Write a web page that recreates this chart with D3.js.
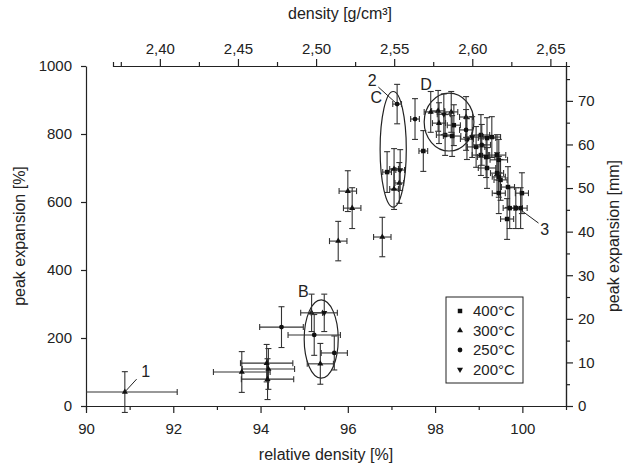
<!DOCTYPE html>
<html>
<head>
<meta charset="utf-8">
<script src="https://cdn.jsdelivr.net/npm/d3@7/dist/d3.min.js"></script>
<style>
  body { margin: 0; background: #fff; }
  svg text { font-family: "Liberation Sans", Arial, sans-serif; fill: #222; }
</style>
</head>
<body>
<svg id="chart" width="624" height="468"></svg>
<script>
// 400°C  [relative density %, peak expansion %, x error, y error]
var s400 = [
  [96.9, 688, 0.1, 60], [97.73, 750, 0.1, 60], [98.43, 826, 0.15, 60], [98.23, 797, 0.2, 60],
  [98.39, 794, 0.2, 60], [98.73, 785, 0.15, 60], [98.94, 762, 0.2, 60], [99.05, 797, 0.2, 60],
  [99.19, 788, 0.2, 60], [99.3, 791, 0.2, 60], [99.05, 738, 0.2, 60], [99.17, 732, 0.2, 60],
  [99.42, 738, 0.2, 60], [99.46, 724, 0.2, 60], [99.19, 700, 0.2, 60], [99.42, 685, 0.15, 60],
  [99.46, 674, 0.15, 60], [99.5, 665, 0.15, 60], [99.46, 626, 0.15, 60], [99.67, 644, 0.15, 60],
  [99.99, 626, 0.15, 60], [99.71, 582, 0.15, 60], [99.85, 582, 0.15, 60], [99.96, 582, 0.15, 60],
  [99.65, 550, 0.15, 60]
];
// 300°C
var s300 = [
  [90.89, 41, 1.2, 60], [93.57, 100, 0.65, 60], [94.14, 126, 0.6, 55], [94.18, 109, 0.6, 60],
  [94.16, 79, 0.6, 60], [95.17, 274, 0.25, 55], [95.37, 124, 0.3, 60], [95.78, 485, 0.2, 58],
  [96.0, 632, 0.2, 60], [96.1, 582, 0.2, 60], [96.79, 497, 0.2, 58], [97.06, 697, 0.1, 60],
  [97.06, 638, 0.1, 60], [97.18, 656, 0.1, 60], [97.9, 865, 0.15, 60], [98.07, 868, 0.15, 60],
  [98.37, 865, 0.15, 60], [98.09, 832, 0.15, 60], [98.71, 850, 0.15, 60]
];
// 250°C
var s250 = [
  [94.48, 232, 0.5, 60], [95.23, 209, 0.6, 60], [95.69, 156, 0.3, 50], [97.13, 888, 0.1, 58],
  [97.54, 844, 0.1, 60], [98.71, 812, 0.15, 60], [99.07, 768, 0.2, 60]
];
// 200°C
var s200 = [
  [95.46, 274, 0.3, 55], [97.2, 694, 0.1, 60], [98.85, 791, 0.15, 60], [98.2, 858, 0.15, 60]
];

var seriesNames = ["400°C", "300°C", "250°C", "200°C"];
var xTicks = [90, 92, 94, 96, 98, 100];
var yTicks = [0, 200, 400, 600, 800, 1000];
var mmTicks = [0, 10, 20, 30, 40, 50, 60, 70];
var densTicks = [2.40, 2.45, 2.50, 2.55, 2.60, 2.65];

var svg = d3.select("#chart");
var pLeft = 86, pRight = 566, pTop = 66, pBottom = 406;

var x = d3.scaleLinear().domain([90, 101]).range([pLeft, pRight]);
var y = d3.scaleLinear().domain([0, 1000]).range([pBottom, pTop]);
var yMM = d3.scaleLinear().domain([0, 78]).range([pBottom, pTop]);
var xDens = d3.scaleLinear().domain([2.37, 2.66]).range([113, pRight]);

function styleAxis(g) {
  g.selectAll("path.domain").attr("stroke", "#222").attr("stroke-width", 1.2);
  g.selectAll(".tick line").attr("stroke", "#222").attr("stroke-width", 1.2);
  g.selectAll("text").style("font-family", "Liberation Sans, Arial, sans-serif")
    .style("font-size", "15px").attr("fill", "#222");
}

// minor ticks first, then major
svg.append("g").attr("transform", "translate(0," + pBottom + ")")
  .call(d3.axisBottom(x).tickValues(d3.range(91, 101, 2)).tickSize(4).tickFormat(""))
  .call(styleAxis);
svg.append("g").attr("transform", "translate(0," + pBottom + ")")
  .call(d3.axisBottom(x).tickValues(xTicks).tickSize(7).tickSizeOuter(0).tickPadding(10))
  .call(styleAxis);

svg.append("g").attr("transform", "translate(" + pLeft + ",0)")
  .call(d3.axisLeft(y).tickValues(yTicks).tickSize(5).tickSizeOuter(0).tickPadding(9).tickFormat(d3.format("d")))
  .call(styleAxis);

svg.append("g").attr("transform", "translate(" + pRight + ",0)")
  .call(d3.axisRight(yMM).tickValues(d3.range(5, 78, 10)).tickSize(4).tickFormat(""))
  .call(styleAxis);
svg.append("g").attr("transform", "translate(" + pRight + ",0)")
  .call(d3.axisRight(yMM).tickValues(mmTicks).tickSize(7).tickSizeOuter(0).tickPadding(5))
  .call(styleAxis);

var comma = function(d) { return d3.format(".2f")(d).replace(".", ","); };
svg.append("g").attr("transform", "translate(0," + pTop + ")")
  .call(d3.axisTop(xDens).tickValues(d3.range(2.375, 2.66, 0.05)).tickSize(4).tickFormat(""))
  .call(styleAxis);
svg.append("g").attr("transform", "translate(0," + pTop + ")")
  .call(d3.axisTop(xDens).tickValues(densTicks).tickSize(7).tickSizeOuter(0).tickPadding(5).tickFormat(comma))
  .call(styleAxis);

// axis titles
svg.append("text").attr("x", 326).attr("y", 460).attr("text-anchor", "middle")
  .style("font-size", "16px").text("relative density [%]");
svg.append("text").attr("x", 340).attr("y", 19).attr("text-anchor", "middle")
  .style("font-size", "16px").text("density [g/cm³]");
svg.append("text").attr("transform", "translate(25,236) rotate(-90)").attr("text-anchor", "middle")
  .style("font-size", "16px").text("peak expansion [%]");
svg.append("text").attr("transform", "translate(619,236) rotate(-90)").attr("text-anchor", "middle")
  .style("font-size", "16px").text("peak expansion [mm]");

// ellipses around groups
var ellipses = [
  {cx: 95.39, cy: 197, rx: 0.39, ry: 115},
  {cx: 97.04, cy: 755, rx: 0.3, ry: 170},
  {cx: 98.32, cy: 835, rx: 0.57, ry: 85}
];
svg.selectAll("ellipse.grp").data(ellipses).enter().append("ellipse")
  .attr("cx", function(d) { return x(d.cx); })
  .attr("cy", function(d) { return y(d.cy); })
  .attr("rx", function(d) { return x(d.cx + d.rx) - x(d.cx); })
  .attr("ry", function(d) { return y(d.cy) - y(d.cy + d.ry); })
  .attr("fill", "none").attr("stroke", "#222").attr("stroke-width", 1.2);

svg.append("clipPath").attr("id", "plotclip").append("rect")
  .attr("x", pLeft).attr("y", pTop).attr("width", pRight - pLeft).attr("height", pBottom - pTop + 10);

var shapes = [
  d3.symbol().type(d3.symbolSquare).size(20),
  d3.symbol().type(d3.symbolTriangle).size(16),
  d3.symbol().type(d3.symbolCircle).size(18),
  d3.symbol().type(d3.symbolTriangle).size(16)
];
var rotate = [0, 0, 0, 180];
var allSeries = [s400, s300, s250, s200];
var cap = 3;

var plot = svg.append("g").attr("clip-path", "url(#plotclip)");
allSeries.forEach(function(data, si) {
  var g = plot.append("g");
  var eb = g.selectAll("g.eb").data(data).enter().append("g").attr("stroke", "#333").attr("stroke-width", 1.1);
  // vertical bars
  eb.append("line")
    .attr("x1", function(d) { return x(d[0]); }).attr("x2", function(d) { return x(d[0]); })
    .attr("y1", function(d) { return y(d[1] - d[3]); }).attr("y2", function(d) { return y(d[1] + d[3]); });
  eb.append("line")
    .attr("x1", function(d) { return x(d[0]) - cap; }).attr("x2", function(d) { return x(d[0]) + cap; })
    .attr("y1", function(d) { return y(d[1] + d[3]); }).attr("y2", function(d) { return y(d[1] + d[3]); });
  eb.append("line")
    .attr("x1", function(d) { return x(d[0]) - cap; }).attr("x2", function(d) { return x(d[0]) + cap; })
    .attr("y1", function(d) { return y(d[1] - d[3]); }).attr("y2", function(d) { return y(d[1] - d[3]); });
  // horizontal bars
  eb.append("line")
    .attr("x1", function(d) { return x(d[0] - d[2]); }).attr("x2", function(d) { return x(d[0] + d[2]); })
    .attr("y1", function(d) { return y(d[1]); }).attr("y2", function(d) { return y(d[1]); });
  eb.append("line")
    .attr("x1", function(d) { return x(d[0] - d[2]); }).attr("x2", function(d) { return x(d[0] - d[2]); })
    .attr("y1", function(d) { return y(d[1]) - cap; }).attr("y2", function(d) { return y(d[1]) + cap; });
  eb.append("line")
    .attr("x1", function(d) { return x(d[0] + d[2]); }).attr("x2", function(d) { return x(d[0] + d[2]); })
    .attr("y1", function(d) { return y(d[1]) - cap; }).attr("y2", function(d) { return y(d[1]) + cap; });
  g.selectAll("path.mk").data(data).enter().append("path")
    .attr("d", shapes[si])
    .attr("transform", function(d) { return "translate(" + x(d[0]) + "," + y(d[1]) + ") rotate(" + rotate[si] + ")"; })
    .attr("fill", "#111");
});

// annotations
var labels = [
  {t: "1", x: 91.37, y: 85, lx1: 90.91, ly1: 44, lx2: 91.16, ly2: 79},
  {t: "2", x: 96.56, y: 941, lx1: 96.7, ly1: 938, lx2: 97.13, ly2: 888},
  {t: "C", x: 96.65, y: 891},
  {t: "B", x: 94.98, y: 321},
  {t: "D", x: 97.79, y: 929},
  {t: "3", x: 100.51, y: 503, lx1: 99.99, ly1: 574, lx2: 100.37, ly2: 538}
];
labels.forEach(function(d) {
  svg.append("text").attr("x", x(d.x)).attr("y", y(d.y)).attr("text-anchor", "middle")
    .style("font-size", "16px").text(d.t);
  if (d.lx1 !== undefined) {
    svg.append("line").attr("x1", x(d.lx1)).attr("y1", y(d.ly1)).attr("x2", x(d.lx2)).attr("y2", y(d.ly2))
      .attr("stroke", "#222").attr("stroke-width", 1);
  }
});

// legend
var lg = svg.append("g").attr("transform", "translate(446,297)");
lg.append("rect").attr("width", 77).attr("height", 86).attr("fill", "#fff")
  .attr("stroke", "#222").attr("stroke-width", 1);
seriesNames.forEach(function(name, i) {
  var yy = 14 + i * 19.5;
  lg.append("path").attr("d", shapes[i])
    .attr("transform", "translate(14," + yy + ") rotate(" + rotate[i] + ")").attr("fill", "#111");
  lg.append("text").attr("x", 27).attr("y", yy + 5).style("font-size", "15px").text(name);
});
</script>
</body>
</html>
